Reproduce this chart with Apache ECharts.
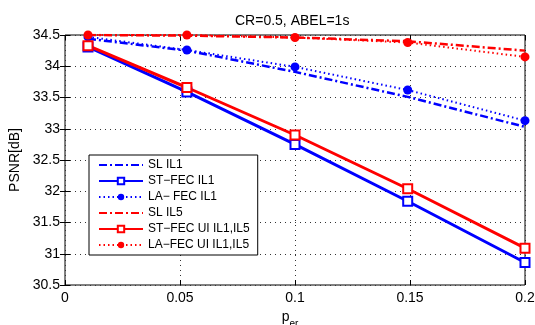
<!DOCTYPE html>
<html>
<head>
<meta charset="utf-8">
<script src="https://cdn.jsdelivr.net/npm/echarts@6/dist/echarts.min.js"></script>
<style>
  html, body { margin: 0; padding: 0; background: #fff; }
  #chart { width: 535px; height: 325px; }
</style>
</head>
<body>
<div id="chart"></div>
<script>
// packet error rates where each scheme was measured
const perValues = [0.01, 0.053, 0.1, 0.149, 0.2];

// PSNR [dB]
const slIL1 = [34.44, 34.25, 33.91, 33.51, 33.03];
const stFecIL1 = [34.31, 33.59, 32.75, 31.84, 30.86];
const laFecIL1 = [34.47, 34.26, 33.99, 33.62, 33.13];
const slIL5 = [34.5, 34.49, 34.46, 34.4, 34.25];
const stFecIL5 = [34.33, 33.66, 32.9, 32.04, 31.09];
const laFecIL5 = [34.5, 34.5, 34.46, 34.38, 34.15];

const seriesNames = [
  'SL IL1', 'ST\u2212FEC IL1', 'LA\u2212 FEC IL1',
  'SL IL5', 'ST\u2212FEC UI IL1,IL5', 'LA\u2212FEC UI IL1,IL5'
];

const FONT = '"Liberation Sans", Arial, Helvetica, sans-serif';
const BLUE = '#0000ff';
const RED = '#ff0000';
const DASH_DOT = [8, 3, 2, 3];
const DOTTED = [1.5, 3];

const pts = ys => perValues.map((x, i) => [x, ys[i]]);

function line(name, ys, color, type, width, symbol) {
  return {
    name,
    type: 'line',
    data: pts(ys),
    color,
    symbol: symbol || 'none',
    symbolSize: 9,
    showSymbol: !!symbol,
    lineStyle: {color, type, width},
    itemStyle: {color, borderColor: color, borderWidth: symbol === 'emptyRect' ? 2 : 0},
    emphasis: {disabled: true},
    animation: false
  };
}

const tickAxis = (pos, min, max, interval) => ({
  type: 'value', position: pos, min, max, interval,
  axisLine: {show: false},
  axisTick: {show: true, inside: true, length: 5, lineStyle: {color: '#000'}},
  axisLabel: {show: false},
  splitLine: {show: false}
});

// SL curves have no markers, so hide the symbol in their legend icon
const legendData = seriesNames.map(name => name.startsWith('SL')
  ? {name, itemStyle: {color: 'transparent', borderColor: 'transparent', borderWidth: 0}}
  : {name});

const chart = echarts.init(document.getElementById('chart'));
chart.setOption({
  backgroundColor: '#fff',
  animation: false,
  textStyle: {fontFamily: FONT},
  title: {
    text: 'CR=0.5, ABEL=1s',
    left: 230, top: 9,
    textStyle: {fontFamily: FONT, fontSize: 14, fontWeight: 'normal', color: '#000'}
  },
  grid: {
    left: 65, right: 10, top: 35, bottom: 40,
    containLabel: false, outerBoundsMode: 'none',
    show: true, borderColor: '#000', borderWidth: 1, backgroundColor: 'transparent'
  },
  legend: {
    orient: 'vertical',
    left: 89, top: 155,
    data: legendData,
    itemWidth: 44, itemHeight: 8, itemGap: 2,
    padding: [3, 8, 3, 9],
    borderColor: '#000', borderWidth: 1, backgroundColor: '#fff',
    textStyle: {fontFamily: FONT, fontSize: 12, color: '#000', lineHeight: 14},
    selectedMode: false
  },
  xAxis: [{
    type: 'value', min: 0, max: 0.2, interval: 0.05,
    name: '{p|p}{s|er}',
    nameLocation: 'middle', nameGap: 21,
    nameTextStyle: {
      padding: [0, 10, 0, 0],
      rich: {
        p: {fontFamily: FONT, fontSize: 14, color: '#000', lineHeight: 16, verticalAlign: 'top'},
        s: {fontFamily: FONT, fontSize: 10, color: '#000', lineHeight: 19, verticalAlign: 'bottom'}
      }
    },
    axisLine: {show: false},
    axisTick: {show: true, inside: true, length: 5, lineStyle: {color: '#000'}},
    axisLabel: {fontFamily: FONT, fontSize: 14, color: '#000', margin: 6},
    splitLine: {show: true, lineStyle: {color: '#333', type: [1, 4], width: 1}}
  }, tickAxis('top', 0, 0.2, 0.05)],
  yAxis: [{
    type: 'value', min: 30.5, max: 34.5, interval: 0.5,
    name: 'PSNR[dB]',
    nameLocation: 'middle', nameGap: 29,
    nameTextStyle: {fontFamily: FONT, fontSize: 14, color: '#000'},
    axisLine: {show: false},
    axisTick: {show: true, inside: true, length: 5, lineStyle: {color: '#000'}},
    axisLabel: {fontFamily: FONT, fontSize: 14, color: '#000', margin: 5},
    splitLine: {show: true, lineStyle: {color: '#333', type: [1, 4], width: 1}}
  }, tickAxis('right', 30.5, 34.5, 0.5)],
  series: [
    line(seriesNames[0], slIL1, BLUE, DASH_DOT, 2.5),
    line(seriesNames[1], stFecIL1, BLUE, 'solid', 3, 'emptyRect'),
    line(seriesNames[2], laFecIL1, BLUE, DOTTED, 2, 'circle'),
    line(seriesNames[3], slIL5, RED, DASH_DOT, 2.5),
    line(seriesNames[4], stFecIL5, RED, 'solid', 3, 'emptyRect'),
    line(seriesNames[5], laFecIL5, RED, DOTTED, 2, 'circle')
  ]
});
</script>
</body>
</html>
